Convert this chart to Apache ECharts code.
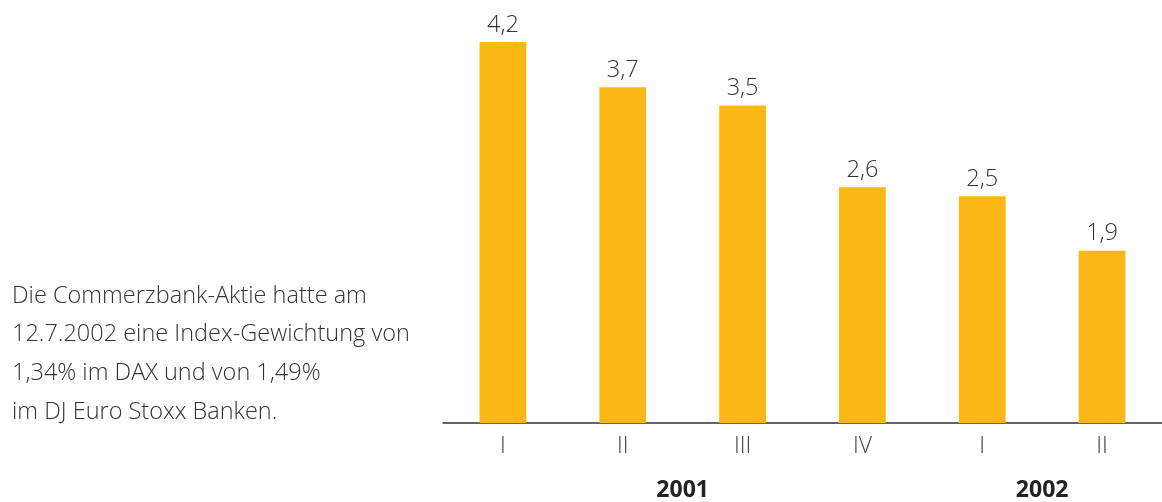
<!DOCTYPE html>
<html><head><meta charset="utf-8">
<script src="https://cdn.jsdelivr.net/npm/echarts@6/dist/echarts.min.js"></script>
<style>html,body{margin:0;padding:0;background:#fff}#c{width:1162px;height:502px}</style>
</head><body><div id="c"></div>
<script>
const categories = ['I','II','III','IV','I','II'];
const values = [4.2, 3.7, 3.5, 2.6, 2.5, 1.9];
const years = [{label:'2001', from:0, to:3}, {label:'2002', from:4, to:5}];
const noteLines = ['Die Commerzbank-Aktie hatte am','12.7.2002 eine Index-Gewichtung von','1,34% im DAX und von 1,49%','im DJ Euro Stoxx Banken.'];

const chart = echarts.init(document.getElementById('c'));
const FONT = '"Open Sans"';
const option = {
  animation:false,
  grid:{left:443, right:0, top:42, bottom:79},
  xAxis:{type:'category', data:categories,
    axisLine:{lineStyle:{color:'#333', width:1.5}},
    axisTick:{show:false},
    axisLabel:{color:'#444', fontSize:23, fontFamily:FONT, fontWeight:300, margin:12}},
  yAxis:{type:'value', min:0, max:4.2, show:false, splitLine:{show:false}},
  series:[{type:'bar', data:values, barWidth:'39%',
    itemStyle:{color:'#FBB814'},
    label:{show:true, position:'top', distance:5, color:'#333', fontSize:23.5, fontFamily:FONT, fontWeight:300,
      formatter:p=>String(p.value).replace('.',',')}}]
};
chart.setOption(option);
const g = [];
years.forEach(y=>{
  const a = chart.convertToPixel({xAxisIndex:0}, y.from);
  const b = chart.convertToPixel({xAxisIndex:0}, y.to);
  g.push({type:'text', x:(a+b)/2, y:490, style:{text:y.label, fill:'#222', font:'bold 23px '+FONT, align:'center', verticalAlign:'middle'}});
});
noteLines.forEach((t,i)=>{
  g.push({type:'text', x:12, y:296+i*38.7, style:{text:t, fill:'#333', font:'300 23.5px '+FONT, align:'left', verticalAlign:'middle'}});
});
chart.setOption({graphic:g});
</script></body></html>
